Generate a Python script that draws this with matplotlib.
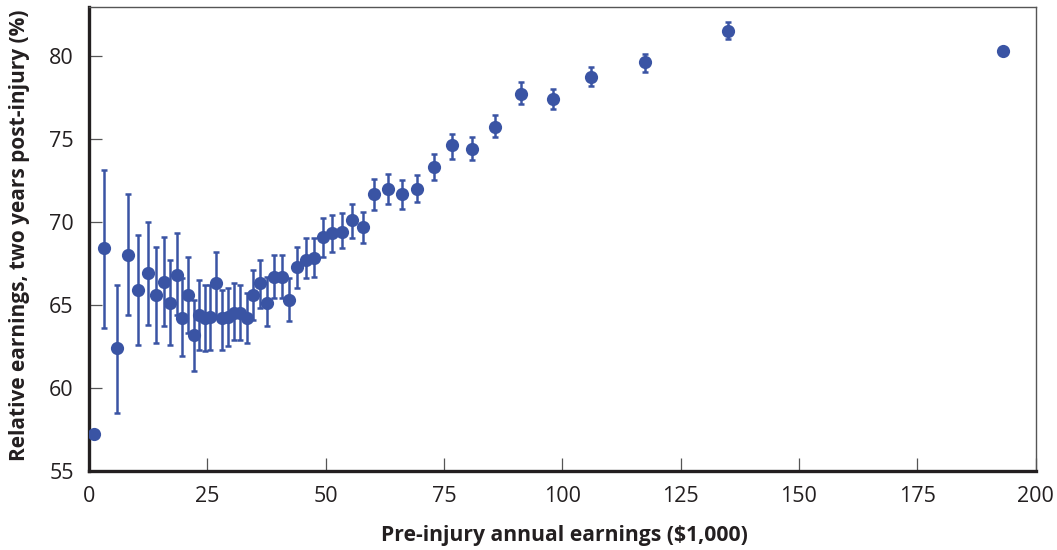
import matplotlib
matplotlib.use("Agg")
import matplotlib.pyplot as plt
import numpy as np

plt.rcParams['font.family'] = ['Open Sans', 'DejaVu Sans']

# Pre-injury earnings bins ($1,000) and relative earnings two years later (%)
earnings = [1.0, 3.2, 5.9, 8.3, 10.4, 12.4, 14.1, 15.8, 17.2, 18.5,
            19.7, 20.9, 22.1, 23.3, 24.5, 25.6, 26.8, 28.1, 29.3, 30.6,
            31.9, 33.4, 34.7, 36.2, 37.7, 39.1, 40.7, 42.3, 44.0, 45.8,
            47.5, 49.4, 51.3, 53.4, 55.6, 57.9, 60.2, 63.1, 66.1, 69.3,
            72.9, 76.8, 81.0, 85.7, 91.3, 98.0, 106.1, 117.4, 135.0, 193.2]
relative = [57.2, 68.4, 62.4, 68.0, 65.9, 66.9, 65.6, 66.4, 65.1, 66.8,
            64.2, 65.6, 63.2, 64.4, 64.2, 64.3, 66.3, 64.2, 64.3, 64.5,
            64.5, 64.2, 65.6, 66.3, 65.1, 66.7, 66.7, 65.3, 67.3, 67.7,
            67.8, 69.1, 69.3, 69.4, 70.1, 69.7, 71.7, 72.0, 71.7, 72.0,
            73.3, 74.6, 74.4, 75.7, 77.7, 77.4, 78.7, 79.6, 81.5, 80.3]
ci_low = [57.2, 63.6, 58.5, 64.4, 62.6, 63.8, 62.7, 63.7, 62.6, 64.4,
          61.9, 63.3, 61.0, 62.3, 62.2, 62.3, 64.3, 62.3, 62.5, 62.9,
          62.9, 62.7, 64.1, 64.8, 63.7, 65.4, 65.4, 64.0, 66.0, 66.6,
          66.7, 67.9, 68.2, 68.4, 69.0, 68.7, 70.7, 71.1, 70.8, 71.2,
          72.5, 73.8, 73.7, 75.1, 77.1, 76.8, 78.2, 79.0, 81.0, 80.3]
ci_high = [57.2, 73.1, 66.2, 71.7, 69.2, 70.0, 68.5, 69.1, 67.7, 69.3,
           66.6, 67.9, 65.3, 66.5, 66.2, 66.2, 68.2, 65.9, 66.0, 66.3,
           66.2, 65.7, 67.1, 67.7, 66.7, 68.0, 68.0, 66.6, 68.5, 69.0,
           69.0, 70.2, 70.4, 70.5, 71.1, 70.6, 72.6, 72.9, 72.5, 72.8,
           74.1, 75.3, 75.1, 76.4, 78.4, 78.0, 79.3, 80.1, 82.0, 80.3]

x_ticks = [0, 25, 50, 75, 100, 125, 150, 175, 200]
y_ticks = [55, 60, 65, 70, 75, 80]

blue = '#3a54a4'
ink = '#231f20'

fig = plt.figure(figsize=(10.57, 5.5), dpi=100)
ax = fig.add_axes([0.0842, 0.1436, 0.8955, 0.8428])

y = np.array(relative)
yerr = np.vstack([y - np.array(ci_low), np.array(ci_high) - y])
has_err = (yerr.sum(axis=0) > 0)

ax.errorbar(np.array(earnings)[has_err], y[has_err], yerr=yerr[:, has_err],
            fmt='none', ecolor=blue, elinewidth=1.8, capsize=2.2,
            capthick=1.8, zorder=2)
ax.plot(earnings, relative, 'o', color=blue, markersize=9.5,
        markeredgewidth=0, zorder=3)

ax.set_xlim(0, 200)
ax.set_ylim(55, 82.9)
ax.set_xticks(x_ticks)
ax.set_yticks(y_ticks)

for side in ('left', 'bottom'):
    ax.spines[side].set_linewidth(2.4)
    ax.spines[side].set_color(ink)
for side in ('top', 'right'):
    ax.spines[side].set_linewidth(1.0)
    ax.spines[side].set_color('#555555')

ax.tick_params(axis='both', direction='in', length=9.5, width=0.9,
               color='#555555', labelsize=15.5, labelcolor=ink)
ax.tick_params(axis='x', pad=11)
ax.tick_params(axis='y', pad=11)

ax.set_xlabel('Pre-injury annual earnings ($1,000)', fontsize=15.2,
              fontweight='bold', color=ink, va='center')
ax.set_ylabel('Relative earnings, two years post-injury (%)', fontsize=15,
              fontweight='bold', color=ink, va='center')
ax.xaxis.set_label_coords(0.5024, -0.140)
ax.yaxis.set_label_coords(-0.0729, 0.509)

fig.savefig('out.png', dpi=100)
